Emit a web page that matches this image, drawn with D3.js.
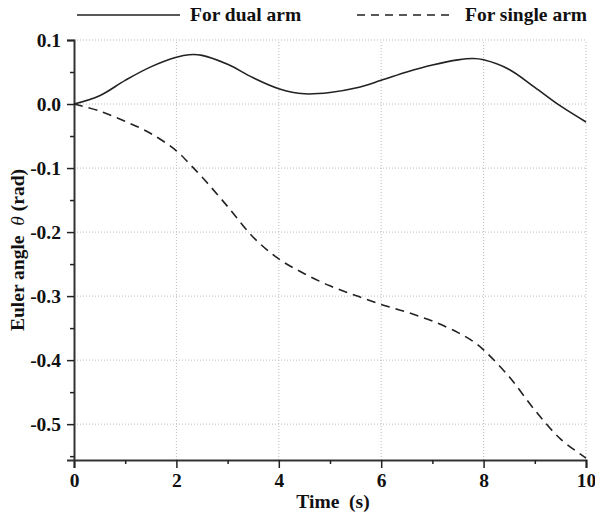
<!DOCTYPE html>
<html>
<head>
<meta charset="utf-8">
<script src="https://cdn.jsdelivr.net/npm/d3@7"></script>
<style>
  body { margin: 0; background: #fff; }
  text { font-family: "Liberation Serif", "Times New Roman", serif; font-weight: bold; fill: #111; }
</style>
</head>
<body>
<svg id="chart"></svg>
<script>
// time samples (s)
const times = [0, 0.5, 1, 1.5, 2, 2.25, 2.5, 3, 3.5, 4, 4.5, 5, 5.5, 6, 6.5, 7, 7.5, 7.8, 8, 8.5, 9, 9.5, 10];
// euler angle theta (rad) for dual arm
const dualArm = [0, 0.013, 0.037, 0.058, 0.073, 0.077, 0.076, 0.062, 0.041, 0.024, 0.016, 0.018, 0.025, 0.037, 0.050, 0.061, 0.069, 0.071, 0.069, 0.054, 0.026, -0.003, -0.028];
// euler angle theta (rad) for single arm
const singleArm = [0, -0.011, -0.027, -0.046, -0.073, -0.093, -0.114, -0.160, -0.208, -0.242, -0.265, -0.284, -0.299, -0.313, -0.325, -0.339, -0.357, -0.371, -0.384, -0.426, -0.478, -0.523, -0.553];
const xTicks = [0, 2, 4, 6, 8, 10];
const xMinor = [1, 3, 5, 7, 9];
const yTicks = [0.1, 0.0, -0.1, -0.2, -0.3, -0.4, -0.5];
const yMinor = [0.05, -0.05, -0.15, -0.25, -0.35, -0.45, -0.55];

const width = 595, height = 515;
const margin = {top: 40, right: 9, bottom: 55, left: 74};
const fs = 19.5;

const svg = d3.select("#chart").attr("width", width).attr("height", height);

const x = d3.scaleLinear().domain([0, 10]).range([margin.left, width - margin.right]);
const y = d3.scaleLinear().domain([-0.556, 0.1]).range([height - margin.bottom, margin.top]);

// dotted grid
const grid = svg.append("g").attr("stroke", "#bbb").attr("stroke-width", 1).attr("stroke-dasharray", "1,2");
grid.selectAll("line.v").data(xTicks.slice(1)).enter().append("line")
    .attr("x1", d => x(d)).attr("x2", d => x(d))
    .attr("y1", y.range()[0]).attr("y2", y.range()[1]);
grid.selectAll("line.h").data(yTicks).enter().append("line")
    .attr("x1", x.range()[0]).attr("x2", x.range()[1])
    .attr("y1", d => y(d)).attr("y2", d => y(d));

// x axis
svg.append("g").attr("transform", `translate(0,${y.range()[0]})`)
    .call(d3.axisBottom(x).tickValues(xTicks).tickFormat(d3.format("d")).tickSize(8).tickPadding(5));
svg.append("g").attr("transform", `translate(0,${y.range()[0]})`)
    .call(d3.axisBottom(x).tickValues(xMinor).tickFormat("").tickSize(4))
    .call(g => g.select(".domain").remove());

// y axis
const yAxis = svg.append("g").attr("transform", `translate(${x.range()[0]},0)`)
    .call(d3.axisLeft(y).tickValues(yTicks).tickFormat(d3.format(".1f")).tickSize(7).tickPadding(6));
svg.append("g").attr("transform", `translate(${x.range()[0]},0)`)
    .call(d3.axisLeft(y).tickValues(yMinor).tickFormat("").tickSize(4))
    .call(g => g.select(".domain").remove());

svg.selectAll(".tick line").attr("stroke", "#222").attr("stroke-width", 1.5);
svg.selectAll(".domain").attr("stroke", "#333").attr("stroke-width", 2);
svg.selectAll(".tick text").attr("font-size", fs).attr("font-family", "Liberation Serif, serif")
    .attr("font-weight", "bold").attr("fill", "#111");
yAxis.selectAll(".tick text").text(d => d3.format(".1f")(d).replace("−", "-"));

// curves
const line = d3.line().x(d => x(d[0])).y(d => y(d[1])).curve(d3.curveCatmullRom.alpha(0.5));
svg.append("path").datum(times.map((t, i) => [t, dualArm[i]]))
    .attr("d", line).attr("fill", "none").attr("stroke", "#222").attr("stroke-width", 1.6);
svg.append("path").datum(times.map((t, i) => [t, singleArm[i]]))
    .attr("d", line).attr("fill", "none").attr("stroke", "#222").attr("stroke-width", 1.6)
    .attr("stroke-dasharray", "9,6");

// legend
svg.append("line").attr("x1", 77).attr("x2", 180).attr("y1", 15).attr("y2", 15)
    .attr("stroke", "#222").attr("stroke-width", 1.6);
svg.append("text").attr("x", 190).attr("y", 21).attr("font-size", fs).text("For dual arm");
svg.append("line").attr("x1", 357).attr("x2", 452).attr("y1", 15).attr("y2", 15)
    .attr("stroke", "#222").attr("stroke-width", 1.6).attr("stroke-dasharray", "8,6");
svg.append("text").attr("x", 465).attr("y", 21).attr("font-size", fs).text("For single arm");

// axis titles
svg.append("text").attr("x", 333).attr("y", 508).attr("text-anchor", "middle")
    .attr("font-size", fs).attr("xml:space", "preserve").text("Time  (s)");
const yt = svg.append("text").attr("transform", "translate(24,250) rotate(-90)")
    .attr("text-anchor", "middle").attr("font-size", fs).attr("xml:space", "preserve");
yt.append("tspan").text("Euler angle  ");
yt.append("tspan").attr("font-style", "italic").attr("font-weight", "normal").text("θ");
yt.append("tspan").text(" (rad)");
</script>
</body>
</html>
